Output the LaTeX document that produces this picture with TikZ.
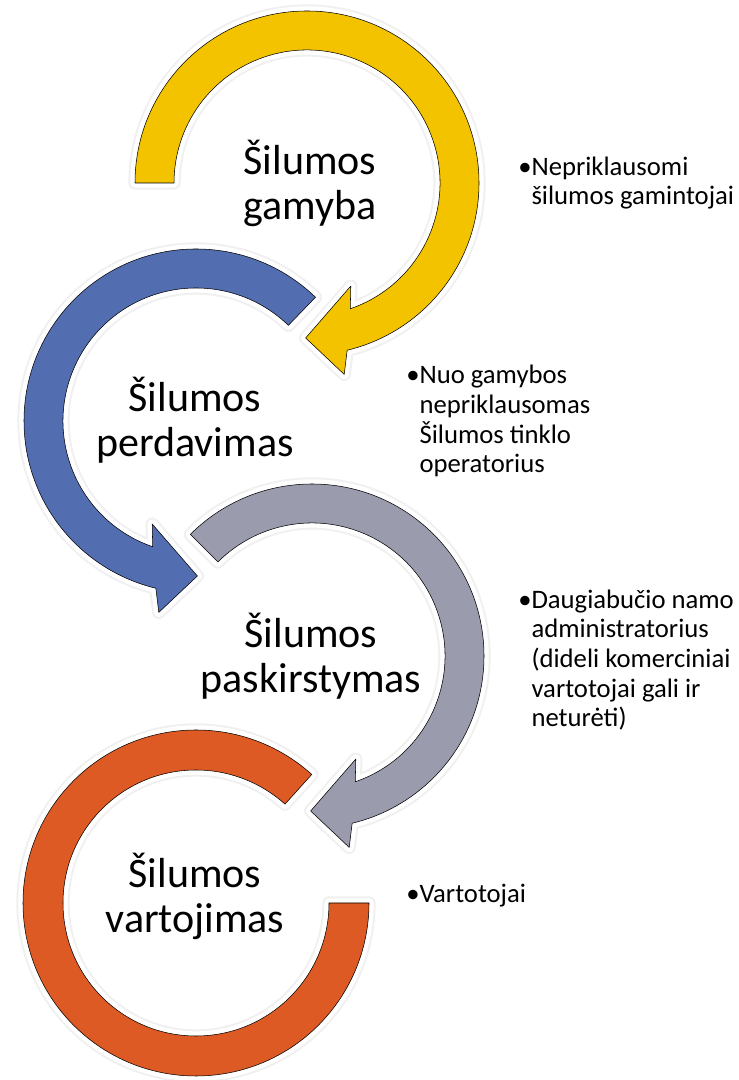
\documentclass[tikz,border=0pt]{standalone}
\usepackage{fontspec}
\setmainfont{Carlito}
\usetikzlibrary{positioning}

\definecolor{gamybacol}{RGB}{243,195,0}
\definecolor{perdavcol}{RGB}{82,109,176}
\definecolor{paskircol}{RGB}{155,155,174}
\definecolor{vartojcol}{RGB}{221,90,36}

\begin{document}
\begin{tikzpicture}[x=0.75pt,y=0.75pt,
        ring/.style={fill=#1,line join=round,
            preaction={draw=black!6,line width=10pt,line join=round},
            preaction={draw=white,line width=7pt,line join=round}},
        label/.style={align=center,anchor=base,inner sep=0pt,font=\fontsize{31.5}{33.75}\selectfont},
        info/.style={align=left,anchor=base west,inner sep=0pt,font=\fontsize{20}{22.3}\selectfont}]
        \useasboundingbox(0,0)rectangle(738,1080);

        % centres of the four rings
        \coordinate(cg)at(307,897);
        \coordinate(cp)at(196,659);
        \coordinate(cs)at(312,424);
        \coordinate(cv)at(196,177);

        % last ring first, so the arrow heads lie on top
        \draw[ring=vartojcol,shift={(cv)}](48:173)arc[start angle=48,end angle=360,radius=173]--(0:133)arc[start angle=360,end angle=48,radius=133]--cycle;
        \draw[ring=paskircol,shift={(cs)}](135:172)arc[start angle=135,end angle=-76.5,radius=172]--(-79:195)--(-90.5:155)--(-67:112)--(-71:133)arc[start angle=-71,end angle=135,radius=133]--cycle;
        \draw[ring=perdavcol,shift={(cp)}](46:172)arc[start angle=46,end angle=256.5,radius=172]--(259:195)--(270.5:155)--(247:112)--(251:133)arc[start angle=251,end angle=46,radius=133]--cycle;
        \draw[ring=gamybacol,shift={(cg)}](180:172)arc[start angle=180,end angle=-76.5,radius=172]--(-79:195)--(-90.5:155)--(-67:112)--(-71:133)arc[start angle=-71,end angle=180,radius=133]--cycle;

        % nodes sit on the baseline of their last line
        \node[label](gamyba)at(310,860){Šilumos\\gamyba};
        \node[label](perdavimas)at(195,623){Šilumos\\perdavimas};
        \node[label](paskirstymas)at(311,387){Šilumos\\paskirstymas};
        \node[label](vartojimas)at(195,147){Šilumos\\vartojimas};

        \node[info](gamintojai)at(518,875){•Nepriklausomi\\\hphantom{•}šilumos gamintojai};
        \node[info](operatorius)at(406,607){•Nuo gamybos\\\hphantom{•}nepriklausomas\\\hphantom{•}Šilumos tinklo\\\hphantom{•}operatorius};
        \node[info](administratorius)at(518,353){•Daugiabučio namo\\\hphantom{•}administratorius\\\hphantom{•}(dideli komerciniai\\\hphantom{•}vartotojai gali ir\\\hphantom{•}neturėti)};
        \node[info](vartotojai)at(406,177){•Vartotojai};
    \end{tikzpicture}
\end{document}
